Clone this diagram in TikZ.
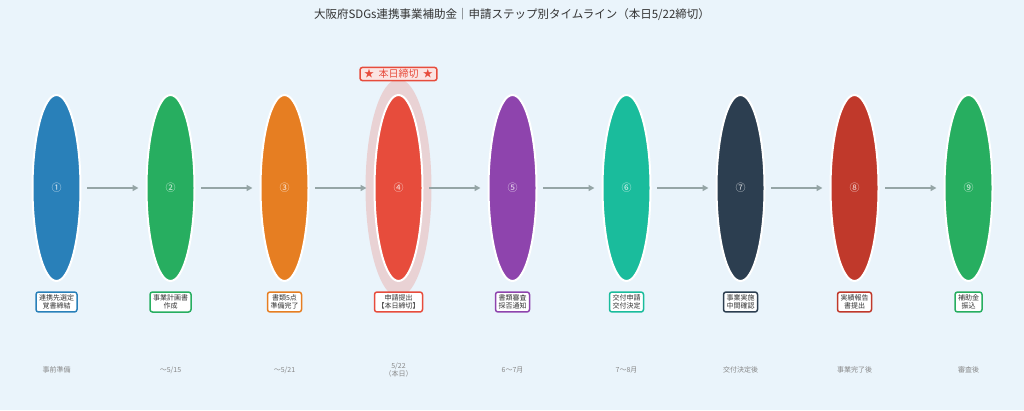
\documentclass[tikz,border=0pt]{standalone}
\usepackage{fontspec}
\setmainfont{Noto Sans CJK JP}
\usepackage{tikz}
\usetikzlibrary{shapes.geometric, arrows.meta}
\definecolor{bg}{HTML}{EAF4FB}
\definecolor{ink}{HTML}{333333}
\definecolor{muted}{HTML}{888888}
\definecolor{arrowgray}{HTML}{95A5A6}
\definecolor{c1}{HTML}{2980B9}
\definecolor{c2}{HTML}{27AE60}
\definecolor{c3}{HTML}{E67E22}
\definecolor{c4}{HTML}{E74C3C}
\definecolor{c5}{HTML}{8E44AD}
\definecolor{c6}{HTML}{1ABC9C}
\definecolor{c7}{HTML}{2C3E50}
\definecolor{c8}{HTML}{C0392B}
\definecolor{c9}{HTML}{27AE60}
\tikzstyle{stage} = [ellipse, 
minimum width=48pt, 
minimum height=186pt, 
inner sep=0pt, 
draw=white, line width=2pt, 
text=white, text opacity=0.85,
font=\fontsize{10}{11}\selectfont]
\tikzstyle{glow} = [ellipse, 
minimum width=66pt, 
minimum height=218pt, 
fill=c4, fill opacity=0.2]
\tikzstyle{tag} = [rectangle, rounded corners=2.5pt, 
fill=white, line width=1.5pt, 
inner xsep=3pt, inner ysep=2.5pt, 
align=center, text=ink, 
font=\fontsize{7}{8.5}\selectfont]
\tikzstyle{when} = [align=center, text=muted, 
font=\fontsize{7}{8.5}\selectfont]
\tikzstyle{badge} = [rectangle, rounded corners=2.5pt, 
draw=c4, line width=1.5pt, fill=white!85!c4, 
text=c4, inner xsep=4pt, inner ysep=2pt, 
font=\fontsize{10}{11}\selectfont]
\tikzstyle{arrow} = [line width=2pt, draw=arrowgray, 
-{Triangle[length=6pt,width=6pt]}, 
shorten <=5.5pt, shorten >=7pt]

\begin{document}
\begin{tikzpicture}[x=1pt, y=1pt, node distance=114pt]

\useasboundingbox [fill=bg] (0,0) rectangle (1024,-410);

\node (title) [text=ink, font=\fontsize{11.5}{13}\selectfont] at (512,-14) {大阪府SDGs連携事業補助金｜申請ステップ別タイムライン（本日5/22締切）};

% stages
\node (e1) [stage, fill=c1] at (56.5,-188) {①};
\node (e2) [stage, fill=c2, right of=e1] {②};
\node (e3) [stage, fill=c3, right of=e2] {③};
\node (glow4) [glow, right of=e3] {};
\node (e4) [stage, fill=c4] at (glow4) {④};
\node (e5) [stage, fill=c5, right of=e4] {⑤};
\node (e6) [stage, fill=c6, right of=e5] {⑥};
\node (e7) [stage, fill=c7, right of=e6] {⑦};
\node (e8) [stage, fill=c8, right of=e7] {⑧};
\node (e9) [stage, fill=c9, right of=e8] {⑨};

\node (badge) [badge, above of=e4] {★\ \ 本日締切\ \ ★};

\draw [arrow] (e1) -- (e2);
\draw [arrow] (e2) -- (e3);
\draw [arrow] (e3) -- (e4);
\draw [arrow] (e4) -- (e5);
\draw [arrow] (e5) -- (e6);
\draw [arrow] (e6) -- (e7);
\draw [arrow] (e7) -- (e8);
\draw [arrow] (e8) -- (e9);

% labels
\node (l1) [tag, draw=c1, below of=e1] {連携先選定\\覚書締結};
\node (l2) [tag, draw=c2, below of=e2] {事業計画書\\作成};
\node (l3) [tag, draw=c3, below of=e3] {書類5点\\準備完了};
\node (l4) [tag, draw=c4, below of=e4] {申請提出\\【本日締切】};
\node (l5) [tag, draw=c5, below of=e5] {書類審査\\採否通知};
\node (l6) [tag, draw=c6, below of=e6] {交付申請\\交付決定};
\node (l7) [tag, draw=c7, below of=e7] {事業実施\\中間確認};
\node (l8) [tag, draw=c8, below of=e8] {実績報告\\書提出};
\node (l9) [tag, draw=c9, below of=e9] {補助金\\振込};

% dates
\node (d1) [when, below of=l1, yshift=46pt] {事前準備};
\node (d2) [when, below of=l2, yshift=46pt] {〜5/15};
\node (d3) [when, below of=l3, yshift=46pt] {〜5/21};
\node (d4) [when, below of=l4, yshift=46pt] {5/22\\（本日）};
\node (d5) [when, below of=l5, yshift=46pt] {6〜7月};
\node (d6) [when, below of=l6, yshift=46pt] {7〜8月};
\node (d7) [when, below of=l7, yshift=46pt] {交付決定後};
\node (d8) [when, below of=l8, yshift=46pt] {事業完了後};
\node (d9) [when, below of=l9, yshift=46pt] {審査後};

\end{tikzpicture}
\end{document}
